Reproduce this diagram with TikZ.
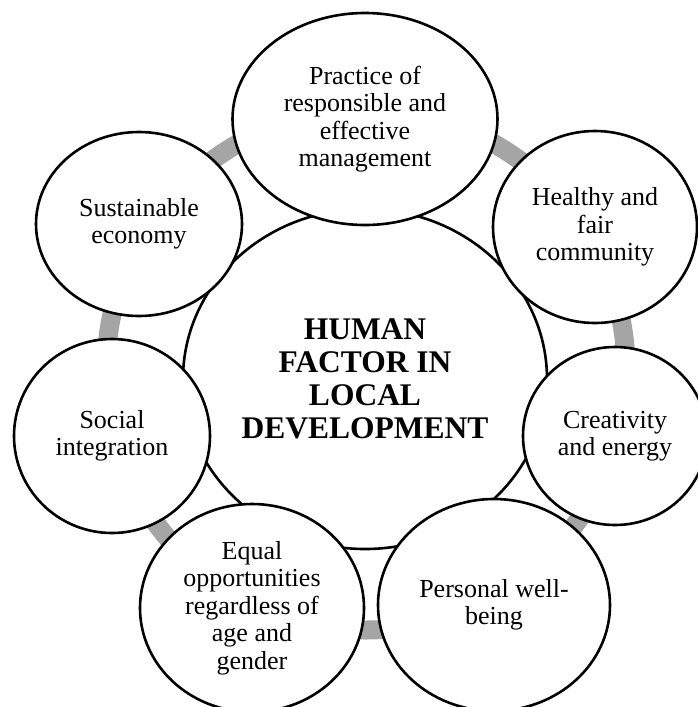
\documentclass[tikz,border=0pt]{standalone}
\usepackage{fontspec}
\setmainfont{Liberation Serif}
\usetikzlibrary{shapes.geometric}

\definecolor{ringgray}{HTML}{A5A5A5}

\tikzset{
  ring/.style={circle, draw=ringgray, line width=19pt, inner sep=0pt, minimum size=520pt},
  hub/.style={ellipse, draw=black, fill=white, line width=2.6pt, inner sep=0pt,
    align=center, font=\bfseries\fontsize{31.5}{33}\selectfont},
  petal/.style={ellipse, draw=black, fill=white, line width=2.6pt, inner sep=0pt,
    align=center, font=\fontsize{26}{27.5}\selectfont},
}

\begin{document}
\begin{tikzpicture}[x=1pt, y=-1pt]
  \useasboundingbox (0,0) rectangle (698,707);

  % grey cycle linking the outer topics
  \node[ring] (ring) at (366,370) {};

  % central topic
  \node[hub, minimum width=364pt, minimum height=340pt] (hub) at (365,379)
    {HUMAN\\FACTOR IN\\LOCAL\\DEVELOPMENT};

  % outer topics
  \node[petal, minimum width=265pt, minimum height=212pt] (mgmt) at (365,119)
    {Practice of\\responsible and\\effective\\management};
  \node[petal, minimum width=204pt, minimum height=192pt] (community) at (595,227)
    {Healthy and\\fair\\community};
  \node[petal, minimum width=184pt, minimum height=178pt] (creativity) at (615,436)
    {Creativity\\and energy};
  \node[petal, minimum width=232pt, minimum height=212pt] (wellbeing) at (494,605)
    {Personal well-\\being};
  \node[petal, minimum width=224pt, minimum height=208pt] (equal) at (252,608)
    {Equal\\opportunities\\regardless of\\age and\\gender};
  \node[petal, minimum width=196pt, minimum height=194pt] (social) at (112,436)
    {Social\\integration};
  \node[petal, minimum width=206pt, minimum height=184pt] (economy) at (139,224)
    {Sustainable\\economy};
\end{tikzpicture}
\end{document}
